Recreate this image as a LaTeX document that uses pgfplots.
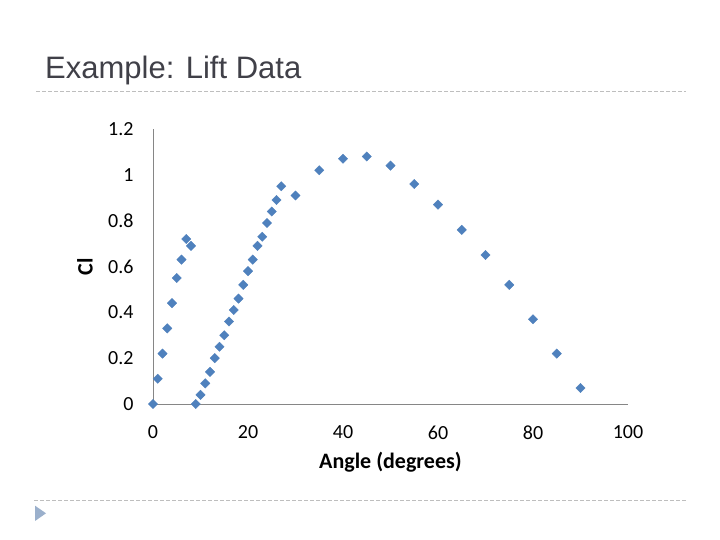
\documentclass[border=0pt]{standalone}
\usepackage{fontspec}
\setmainfont{Carlito}
\newfontfamily\arialfont{Liberation Sans}
\usepackage{pgfplots}
\pgfplotsset{compat=1.18}
\definecolor{ptblue}{RGB}{79,129,189}
\definecolor{axgray}{RGB}{134,134,134}
\definecolor{titlegray}{RGB}{64,64,72}
\definecolor{dashgray}{RGB}{190,190,190}
\definecolor{triblue}{RGB}{155,176,204}
\begin{document}
\begin{tikzpicture}
\fill[white] (0,0) rectangle (720bp,540bp);
\useasboundingbox (0,0) rectangle (720bp,540bp);
\node[anchor=base west, inner sep=0pt, text=titlegray, font=\arialfont\fontsize{31bp}{37bp}\selectfont] at (45bp,461.7bp) {Example: Lift Data};
\draw[dashgray, line width=0.8bp, dash pattern=on 4bp off 2bp] (36bp,449bp) -- (686bp,449bp);
\draw[dashgray, line width=0.8bp, dash pattern=on 4bp off 2bp] (34bp,40bp) -- (686bp,40bp);
\fill[triblue] (35bp,34.3bp) -- (35bp,19bp) -- (46bp,26.7bp) -- cycle;
\begin{axis}[
  scale only axis,
  width=475bp, height=275bp,
  at={(153bp,136bp)}, anchor=south west,
  xmin=0, xmax=100, ymin=0, ymax=1.2,
  axis x line=bottom, axis y line=left,
  axis line style={-, axgray, line width=0.9bp},
  xtick={0,20,40,60,80,100},
  ytick={0,0.2,0.4,0.6,0.8,1,1.2},
  major tick length=0pt,
  /pgf/number format/assume math mode=true,
  tick label style={font=\fontsize{20bp}{24bp}\selectfont, text=black},
  xticklabel style={yshift=-18bp},
  yticklabel style={xshift=-16bp},
  xlabel={Angle (degrees)},
  ylabel={Cl},
  xlabel style={at={(axis description cs:0.5,0)}, anchor=base, yshift=-64bp, font=\bfseries\fontsize{22bp}{26bp}\selectfont},
  ylabel style={at={(axis description cs:-0.143,0.5)}, anchor=center, font=\bfseries\fontsize{22bp}{26bp}\selectfont},
  clip=false,
]
\addplot[only marks, mark=square*, mark size=3.3bp, mark options={rotate=45, fill=ptblue, draw=ptblue}] coordinates {
(0,0) (1,0.11) (2,0.22) (3,0.33) (4,0.44) (5,0.55) (6,0.63) (7,0.72) (8,0.69)
};
\addplot[only marks, mark=square*, mark size=3.3bp, mark options={rotate=45, fill=ptblue, draw=ptblue}] coordinates {
(9,0) (10,0.04) (11,0.09) (12,0.14) (13,0.2) (14,0.25) (15,0.3) (16,0.36) (17,0.41) (18,0.46) (19,0.52) (20,0.58) (21,0.63) (22,0.69) (23,0.73) (24,0.79) (25,0.84) (26,0.89) (27,0.95) (30,0.91) (35,1.02) (40,1.07) (45,1.08) (50,1.04) (55,0.96) (60,0.87) (65,0.76) (70,0.65) (75,0.52) (80,0.37) (85,0.22) (90,0.07)
};
\end{axis}
\end{tikzpicture}
\end{document}
